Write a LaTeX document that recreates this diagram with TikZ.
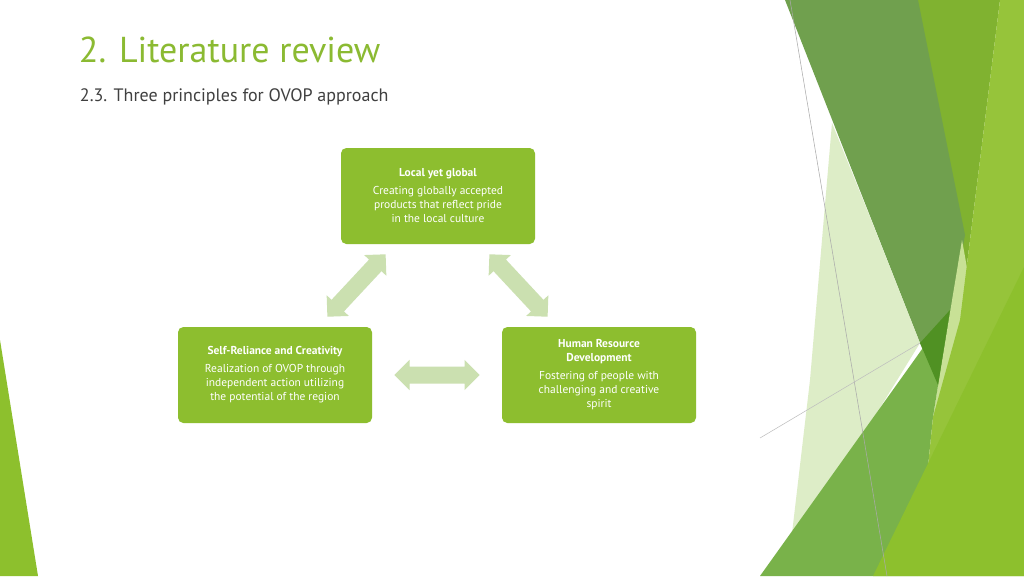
\documentclass[tikz,border=0pt]{standalone}
\usepackage{fontspec}
\setmainfont{PT Sans}
\usetikzlibrary{shapes.arrows,calc}
\definecolor{boxgreen}{RGB}{141,190,47}
\definecolor{arrowgreen}{RGB}{203,224,176}
\definecolor{titlegreen}{RGB}{139,186,50}
\definecolor{textgray}{RGB}{64,64,64}
\tikzset{every picture/.style={line width=0.75pt}}
\tikzset{
  principle/.style={fill=boxgreen, rounded corners=4pt, minimum width=145.5pt, minimum height=72pt, text=white, align=center, font=\fontsize{8.6}{10.5}\selectfont, inner sep=3pt},
  biarrow/.style={double arrow, fill=arrowgreen, draw=none, minimum height=64pt, inner sep=6pt, double arrow head extend=5pt},
  band/.style={draw=none}
}
\begin{document}
\begin{tikzpicture}[x=0.75pt,y=0.75pt,yscale=-1,xscale=1]
\useasboundingbox (0,0) rectangle (1024,576);
\fill[white] (0,0) rectangle (1024,576);

%Shape: right decoration
\fill[band, color={rgb,255:red,128;green,178;blue,48}] (918,0) -- (1000,0) -- (960,320) -- (938,385) -- cycle;
\fill[band, color={rgb,255:red,112;green,160;blue,78}] (785,0) -- (918,0) -- (965,235) -- (938,385) -- (920,343) -- cycle;
\fill[band, color={rgb,255:red,216;green,234;blue,190}, opacity=0.85] (832,123) -- (870,217) -- (920,343) -- (860,440) -- (787,576) -- (810,380) -- cycle;
\fill[band, color={rgb,255:red,200;green,225;blue,150}] (962,240) -- (980,340) -- (933,417) -- (938,385) -- cycle;
\fill[band, color={rgb,255:red,121;green,178;blue,74}] (760,576) -- (950,310) -- (933,417) -- (917,576) -- cycle;
\fill[band, color={rgb,255:red,80;green,145;blue,35}] (920,343) -- (950,310) -- (938,385) -- cycle;
\fill[band, color={rgb,255:red,150;green,196;blue,58}] (1000,0) -- (1024,0) -- (1024,576) -- (917,576) -- (933,417) -- (960,320) -- cycle;
\fill[band, color={rgb,255:red,141;green,192;blue,45}] (873,576) -- (1024,267) -- (1024,576) -- cycle;
%Straight Lines: thin gray
\draw[line width=0.4pt, color={rgb,255:red,170;green,170;blue,170}] (790,0) -- (887,576);
\draw[line width=0.4pt, color={rgb,255:red,190;green,190;blue,190}] (760,438) -- (920,343);
%Shape: left sliver
\fill[band, color={rgb,255:red,141;green,192;blue,45}] (0,340) -- (38,576) -- (0,576) -- cycle;

% Text Node
\node[anchor=west, text=titlegreen, font=\fontsize{27}{30}\selectfont] (title) at (74,50) {2. Literature review};
% Text Node
\node[anchor=west, text=textgray, font=\fontsize{13.5}{16}\selectfont] (subtitle) at (75,97) {2.3. Three principles for OVOP approach};

% Principles
\node[principle] (lyg) at (438,196) {\textbf{Local yet global}\\[3pt]Creating globally accepted\\products that reflect pride\\in the local culture};
\node[principle] (src) at (275,375) {\textbf{Self-Reliance and Creativity}\\[3pt]Realization of OVOP through\\independent action utilizing\\the potential of the region};
\node[principle] (hrd) at (599,375) {\textbf{Human Resource}\\\textbf{Development}\\[3pt]Fostering of people with\\challenging and creative\\spirit};

% Arrows
\node[biarrow, rotate=47] (a1) at ($(lyg.south west)!0.5!(src.north east)$) {};
\node[biarrow, rotate=-47] (a2) at ($(lyg.south east)!0.5!(hrd.north west)$) {};
\node[biarrow] (a3) at ($(src.east)!0.5!(hrd.west)$) {};

\end{tikzpicture}
\end{document}
